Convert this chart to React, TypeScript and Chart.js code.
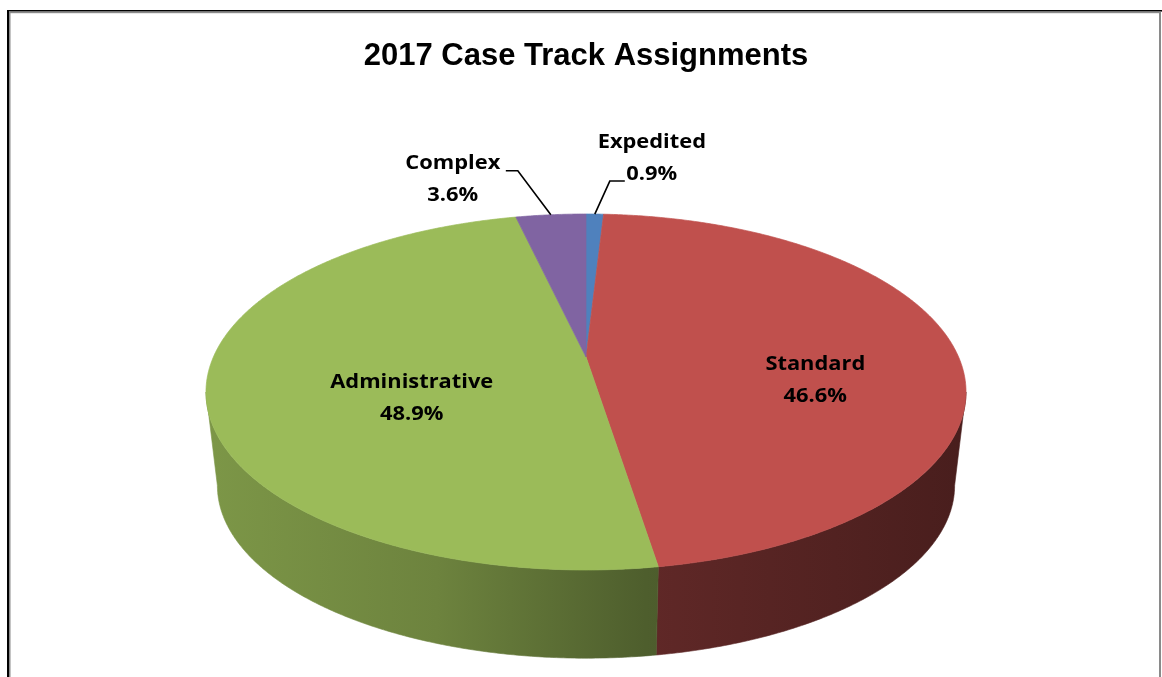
import React, { useEffect, useRef } from 'react';
import { Chart, registerables, PieController, ArcElement } from 'chart.js';

// ---------- data ----------
const TITLE = '2017 Case Track Assignments';
const CATEGORIES = ['Expedited', 'Standard', 'Administrative', 'Complex'];
const SHARES = [0.9, 46.6, 48.9, 3.6];
const SHARE_LABELS = ['0.9%', '46.6%', '48.9%', '3.6%'];
const COLORS = ['#4F81BD', '#C0504D', '#9BBB59', '#8064A2'];

// ---------- styles / layout ----------
const W = 1162;
const H = 677;
const RX_FACTOR = 1.4904; // horizontal half-axis / layout radius
const RY_FACTOR = 0.6844; // vertical half-axis / layout radius
const PERSPECTIVE = 0.1966; // front of the disc is nearer to the viewer
const SIDE_DEPTH = 94.6; // px
const BOTTOM_SCALE = 0.97;
const SILHOUETTE = Math.asin(PERSPECTIVE); // angle of the left/right outline
const LABEL_FONT = 'bold 19px "Open Sans", "DejaVu Sans", sans-serif';
const TEXT_STRETCH = 1.15;
const LINE_GAP = 32;
const SIDE_SHADE: [number, number][] = [
  [0, 0.8],
  [0.3, 0.7],
  [0.58, 0.5],
  [1, 0.38],
];

type Inside = { kind: 'in'; r: number; dy: number };
type Outside = {
  kind: 'out';
  elbow: [number, number];
  tail: number;
  tx: number;
  ty1: number;
  ty2: number;
};
const LABEL_STYLE: Record<string, Inside | Outside> = {
  Expedited: { kind: 'out', elbow: [15, -33], tail: 15, tx: 27, ty1: -38, ty2: -6 },
  Standard: { kind: 'in', r: 0.62, dy: 29 },
  Administrative: { kind: 'in', r: 0.468, dy: 26 },
  Complex: { kind: 'out', elbow: [-33, -44], tail: -12, tx: -53, ty1: -7, ty2: 25 },
};

function hexToRgb(hex: string): [number, number, number] {
  const n = parseInt(hex.slice(1), 16);
  return [(n >> 16) & 255, (n >> 8) & 255, n & 255];
}
function shade(hex: string, f: number): string {
  const [r, g, b] = hexToRgb(hex);
  return `rgb(${Math.round(r * f)},${Math.round(g * f)},${Math.round(b * f)})`;
}

// perspective projection of a point of the (circular) pie onto the screen
function project(
  cx: number,
  cy: number,
  R: number,
  ang: number,
  frac: number,
  bottom = false
): [number, number] {
  const u = frac * Math.cos(ang);
  const v = frac * Math.sin(ang);
  const w = 1 - PERSPECTIVE * v;
  const s = bottom ? BOTTOM_SCALE : 1;
  return [cx + (R * RX_FACTOR * s * u) / w, cy + (bottom ? SIDE_DEPTH : 0) + (R * RY_FACTOR * s * v) / w];
}

class Arc3D extends ArcElement {
  static id = 'arc3d';
  draw(ctx: CanvasRenderingContext2D) {
    const self: any = this;
    const { x, y, startAngle, endAngle, outerRadius } = self.getProps(
      ['x', 'y', 'startAngle', 'endAngle', 'outerRadius'],
      true
    );
    const R = outerRadius;
    const color: string = self.options.backgroundColor;
    const step = 0.008;

    // side wall (visible front part, between the two outline tangents)
    const s = Math.max(startAngle, SILHOUETTE);
    const e = Math.min(endAngle, Math.PI - SILHOUETTE);
    if (e > s) {
      const n = Math.max(2, Math.ceil((e - s) / step));
      ctx.save();
      ctx.beginPath();
      for (let i = 0; i <= n; i++) {
        const [px, py] = project(x, y, R, s + ((e - s) * i) / n, 1);
        if (i === 0) ctx.moveTo(px, py);
        else ctx.lineTo(px, py);
      }
      for (let i = n; i >= 0; i--) {
        const [px, py] = project(x, y, R, s + ((e - s) * i) / n, 1, true);
        ctx.lineTo(px, py);
      }
      ctx.closePath();
      const rx = R * RX_FACTOR;
      const grad = ctx.createLinearGradient(x - rx, 0, x + rx, 0);
      SIDE_SHADE.forEach(([t, f]) => grad.addColorStop(t, shade(color, f)));
      ctx.fillStyle = grad;
      ctx.fill();
      ctx.strokeStyle = grad;
      ctx.lineWidth = 0.6;
      ctx.stroke();
      ctx.restore();
    }

    // top face
    const n = Math.max(2, Math.ceil((endAngle - startAngle) / step));
    ctx.save();
    ctx.beginPath();
    ctx.moveTo(x, y);
    for (let i = 0; i <= n; i++) {
      const [px, py] = project(x, y, R, startAngle + ((endAngle - startAngle) * i) / n, 1);
      ctx.lineTo(px, py);
    }
    ctx.closePath();
    ctx.fillStyle = color;
    ctx.fill();
    ctx.strokeStyle = color;
    ctx.lineWidth = 0.7;
    ctx.lineJoin = 'round';
    ctx.stroke();
    ctx.restore();
  }
}

class Pie3DController extends PieController {
  static id = 'pie3d';
  static defaults = { dataElementType: 'arc3d' };
}

Chart.register(...registerables, Arc3D, Pie3DController);

function drawText(ctx: CanvasRenderingContext2D, text: string, x: number, y: number) {
  ctx.save();
  ctx.translate(x, y);
  ctx.scale(TEXT_STRETCH, 1);
  ctx.fillText(text, 0, 0);
  ctx.restore();
}

const labelsAndFrame = {
  id: 'labelsAndFrame',
  afterDraw(chart: any) {
    const ctx: CanvasRenderingContext2D = chart.ctx;
    const meta = chart.getDatasetMeta(0);
    ctx.save();
    ctx.font = LABEL_FONT;
    ctx.fillStyle = '#000';
    ctx.textAlign = 'center';
    ctx.textBaseline = 'middle';
    meta.data.forEach((arc: any, i: number) => {
      const { x, y, startAngle, endAngle, outerRadius } = arc.getProps(
        ['x', 'y', 'startAngle', 'endAngle', 'outerRadius'],
        true
      );
      const mid = (startAngle + endAngle) / 2;
      const st = LABEL_STYLE[CATEGORIES[i]];
      if (st.kind === 'in') {
        const [lx, ly] = project(x, y, outerRadius, mid, st.r);
        drawText(ctx, CATEGORIES[i], lx, ly + st.dy - LINE_GAP / 2);
        drawText(ctx, SHARE_LABELS[i], lx, ly + st.dy + LINE_GAP / 2);
      } else {
        const [ax, ay] = project(x, y, outerRadius, mid, 1);
        const ex = ax + st.elbow[0];
        const ey = ay + st.elbow[1];
        const tx = ex + st.tail;
        ctx.beginPath();
        ctx.moveTo(ax, ay);
        ctx.lineTo(ex, ey);
        ctx.lineTo(tx, ey);
        ctx.strokeStyle = '#000';
        ctx.lineWidth = 1.6;
        ctx.stroke();
        drawText(ctx, CATEGORIES[i], tx + st.tx, ey + st.ty1);
        drawText(ctx, SHARE_LABELS[i], tx + st.tx, ey + st.ty2);
      }
    });
    ctx.restore();

    // chart frame
    ctx.save();
    ctx.fillStyle = '#000';
    ctx.fillRect(7, 10, W - 7, 1.6);
    ctx.fillRect(7, 10, 2, H - 10);
    ctx.fillStyle = '#8a8a8a';
    ctx.fillRect(9, 11.6, W - 12, 1.6);
    ctx.fillRect(9, 11.6, 1.5, H - 11.6);
    ctx.fillRect(W - 3, 11.6, 2, H - 11.6);
    ctx.restore();
  },
};

export default function App() {
  const ref = useRef<HTMLCanvasElement>(null);
  useEffect(() => {
    document.body.style.margin = '0';
    const chart = new Chart(ref.current as HTMLCanvasElement, {
      type: 'pie3d' as any,
      data: {
        labels: CATEGORIES,
        datasets: [
          {
            data: SHARES,
            backgroundColor: COLORS,
            borderWidth: 0,
            clip: false,
          } as any,
        ],
      },
      options: {
        responsive: false,
        animation: false,
        layout: { padding: { left: 10, right: 0, top: 0, bottom: 70 } },
        plugins: {
          legend: { display: false },
          tooltip: { enabled: false },
          title: {
            display: true,
            text: TITLE,
            color: '#000',
            font: { family: '"Liberation Sans", Arial, sans-serif', size: 31, weight: 'bold' },
            padding: { top: 37.4, bottom: 32.4 },
          },
        },
      } as any,
      plugins: [labelsAndFrame],
    });
    return () => chart.destroy();
  }, []);
  return (
    <div style={{ width: W, height: H, background: '#fff' }}>
      <canvas ref={ref} width={W} height={H} style={{ display: 'block', width: W, height: H }} />
    </div>
  );
}
